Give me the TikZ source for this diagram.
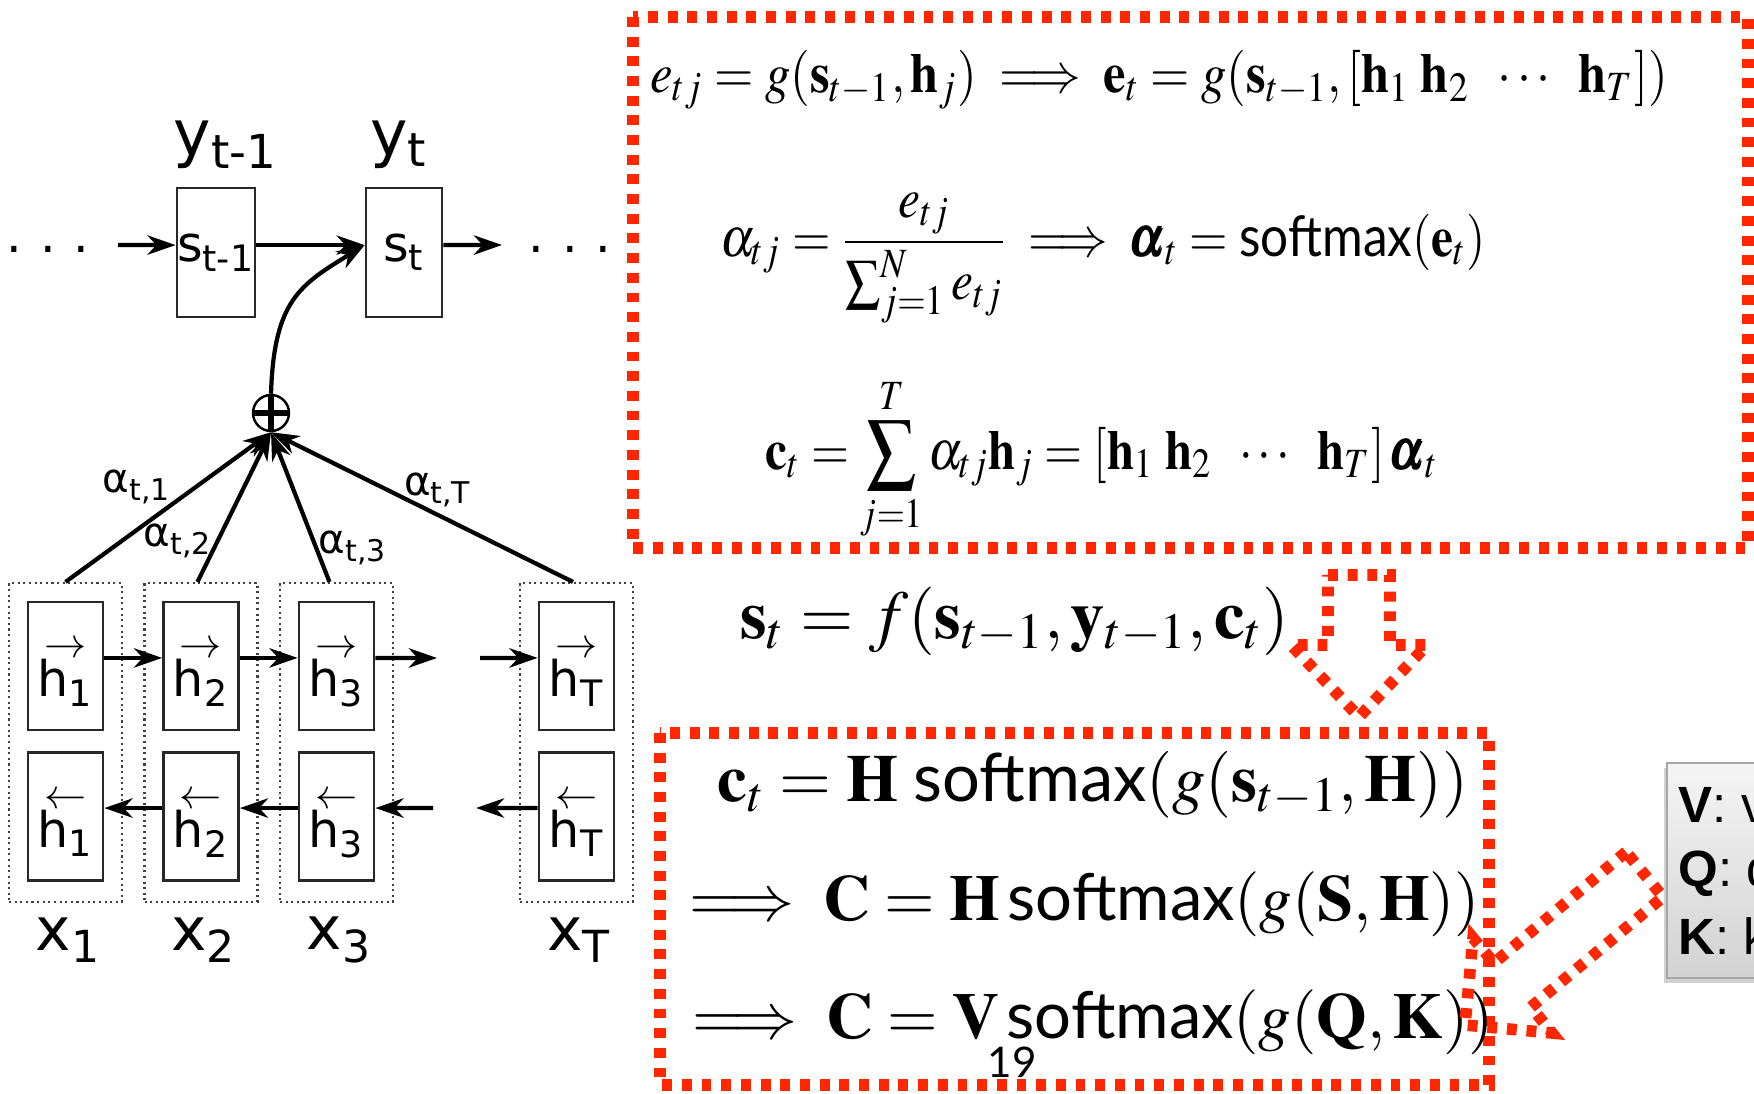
\documentclass[tikz,border=0pt]{standalone}
\usepackage{amsmath}
\usepackage{mathptmx}
\usepackage[no-math]{fontspec}
\setmainfont{DejaVu Sans}
\newfontfamily\smfont{Lato}
\newfontfamily\hvfont{Liberation Sans}
\usetikzlibrary{arrows.meta, positioning, calc, shadows}
\definecolor{keyred}{RGB}{255,38,0}
\definecolor{cellgray}{RGB}{40,40,40}

\newcommand{\smax}{\text{\smfont softmax}}
\newcommand{\hfw}[1]{\begin{tabular}{@{}c@{}}{\fontsize{12}{12}\selectfont$\rightarrow$}\\[-5pt]h\textsubscript{#1}\end{tabular}}
\newcommand{\hbw}[1]{\begin{tabular}{@{}c@{}}{\fontsize{12}{12}\selectfont$\leftarrow$}\\[-5pt]h\textsubscript{#1}\end{tabular}}

\tikzset{
  cell/.style={draw=cellgray, line width=0.8pt, minimum width=7.5mm, minimum height=12.8mm, inner sep=0pt, font=\fontsize{14}{16}\selectfont},
  grp/.style={draw=black!75, densely dotted, line width=0.6pt, minimum width=11.3mm, minimum height=31.9mm, inner sep=0pt},
  arr/.style={-{Stealth[length=8pt,width=5.5pt,inset=2.5pt]}, line width=1.2pt},
  reddots/.style={draw=keyred, line width=3.3pt, dash pattern=on 2.8pt off 2.8pt},
  eq/.style={inner sep=0pt, font=\fontsize{16}{18}\selectfont},
}

\begin{document}
\begin{tikzpicture}[x=0.1mm, y=-0.1mm]
  \path[use as bounding box, fill=white] (0,0) rectangle (1754,1094);

  % decoder states
  \node[cell, minimum width=7.6mm, minimum height=12.9mm] (sm) at (216,252.5) {s\textsubscript{t-1}};
  \node[cell, minimum width=7.6mm, minimum height=12.9mm] (st) at (404,252.5) {s\textsubscript{t}};
  \node[font=\fontsize{18}{20}\selectfont] (ym) at (226,145) {y\textsubscript{t-1}};
  \node[font=\fontsize{18}{20}\selectfont] (yt) at (399,145) {y\textsubscript{t}};
  \node[font=\fontsize{14}{16}\selectfont] (dotsl) at (48,256) {·\hspace{5pt}·\hspace{5pt}·};
  \node[font=\fontsize{14}{16}\selectfont] (dotsr) at (570,256) {·\hspace{5pt}·\hspace{5pt}·};
  \coordinate (in0) at (118,245);
  \coordinate (out0) at (502,245);
  \draw[arr] (in0) -- ([yshift=2.1pt]sm.west);
  \draw[arr] ([yshift=2.1pt]sm.east) -- ([yshift=2.1pt]st.west);
  \draw[arr] ([yshift=2.1pt]st.east) -- (out0);

  % sum node
  \node[circle, draw, line width=0.7pt, minimum size=3.6mm, inner sep=0pt] (plus) at (271,413) {};
  \draw[line width=1.6pt] (plus.north) -- (plus.south) (plus.west) -- (plus.east);
  \draw[arr] (plus.north) .. controls (274,300) and (300,285) .. ([yshift=2.1pt]st.west);

  % encoder columns
  \foreach \x/\i in {65.5/1, 201/2, 336.5/3, 576.5/T} {
    \node[grp] (g\i) at (\x,742.5) {};
    \node[cell] (hf\i) at (\x,666) {\hfw{\i}};
    \node[cell] (hb\i) at (\x,816.5) {\hbw{\i}};
    \node[font=\fontsize{17}{19}\selectfont] (x\i) at (\x+3,940) {x\textsubscript{\i}};
  }
  \coordinate (f3out) at (437,658);
  \coordinate (fTin) at (480,658);
  \coordinate (b3in) at (433,808);
  \coordinate (bTout) at (476,808);
  \draw[arr] ([yshift=2.3pt]hf1.east) -- ([yshift=2.3pt]hf2.west);
  \draw[arr] ([yshift=2.3pt]hf2.east) -- ([yshift=2.3pt]hf3.west);
  \draw[arr] ([yshift=2.3pt]hf3.east) -- (f3out);
  \draw[arr] (fTin) -- ([yshift=2.3pt]hfT.west);
  \draw[arr] ([yshift=2.4pt]hb2.west) -- ([yshift=2.4pt]hb1.east);
  \draw[arr] ([yshift=2.4pt]hb3.west) -- ([yshift=2.4pt]hb2.east);
  \draw[arr] (b3in) -- ([yshift=2.4pt]hb3.east);
  \draw[arr] ([yshift=2.4pt]hbT.west) -- (bTout);

  % attention weights
  \draw[arr] (g1.north) -- (plus.south);
  \draw[arr] ([xshift=-1pt]g2.north) -- (plus.south);
  \draw[arr] ([xshift=-2pt]g3.north) -- (plus.south);
  \draw[arr] ([xshift=-1pt]gT.north) -- (plus.south);
  \node[font=\fontsize{11.5}{13}\selectfont] (a1) at (137,487) {α\textsubscript{t,1}};
  \node[font=\fontsize{11.5}{13}\selectfont] (a2) at (178,541) {α\textsubscript{t,2}};
  \node[font=\fontsize{11.5}{13}\selectfont] (a3) at (353,548) {α\textsubscript{t,3}};
  \node[font=\fontsize{11.5}{13}\selectfont] (aT) at (438,490) {α\textsubscript{t,T}};

  % attention equations
  \draw[reddots] (633,17) rectangle (1748,548);
  \node[eq] (eqe) at (1159,80) {\scalebox{0.9}[1]{$e_{tj} = g(\mathbf{s}_{t-1}, \mathbf{h}_j) \;\Longrightarrow\; \mathbf{e}_t = g(\mathbf{s}_{t-1}, [\mathbf{h}_1\;\mathbf{h}_2\;\;\cdots\;\;\mathbf{h}_T])$}};
  \node[eq] (eqa) at (1103,258) {\scalebox{0.88}[1]{$\alpha_{tj} = \dfrac{e_{tj}}{\sum_{j=1}^{N} e_{tj}} \;\Longrightarrow\; \pmb{\alpha}_t = \smax(\mathbf{e}_t)$}};
  \node[eq] (eqc) at (1102,459) {\scalebox{0.87}[1]{$\displaystyle \mathbf{c}_t = \sum_{j=1}^{T} \alpha_{tj}\mathbf{h}_j = [\mathbf{h}_1\;\mathbf{h}_2\;\;\cdots\;\;\mathbf{h}_T]\,\pmb{\alpha}_t$}};
  \node[eq, font=\fontsize{19.5}{22}\selectfont] (eqs) at (1015,621) {$\mathbf{s}_t = f(\mathbf{s}_{t-1}, \mathbf{y}_{t-1}, \mathbf{c}_t)$};

  % down arrow
  \draw[reddots] (1328,575) -- (1390,575) -- (1390,645) -- (1427,645) -- (1359,717) -- (1291,645) -- (1328,645) -- cycle;

  % matrix form
  \draw[reddots] (660,733) rectangle (1489,1085);
  \node[eq, font=\fontsize{19}{21}\selectfont] (eqh) at (1093,785) {$\mathbf{c}_t = \mathbf{H}\;\smax(g(\mathbf{s}_{t-1}, \mathbf{H}))$};
  \node[eq, font=\fontsize{18.5}{21}\selectfont] (eqS) at (1085,904) {$\Longrightarrow\; \mathbf{C} = \mathbf{H}\,\smax(g(\mathbf{S}, \mathbf{H}))$};
  \node[eq, font=\fontsize{18.5}{21}\selectfont] (eqV) at (1093,1022) {$\Longrightarrow\; \mathbf{C} = \mathbf{V}\,\smax(g(\mathbf{Q}, \mathbf{K}))$};
  \node[font=\smfont\fontsize{12}{14}\selectfont] (pg) at (1012,1062) {19};

  % legend box
  \begin{scope}
    \clip (0,0) rectangle (1754,1094);
    \path[draw=gray!70, line width=0.4pt, top color=gray!8, bottom color=gray!35, drop shadow={opacity=0.35, shadow xshift=-1pt, shadow yshift=-1.5pt}] (1667,763) rectangle (1800,978);
    \node[anchor=west, inner sep=0pt, font=\hvfont\fontsize{14.5}{16}\selectfont] (lv) at (1678,805) {\textbf{V}: v};
    \node[anchor=west, inner sep=0pt, font=\hvfont\fontsize{14.5}{16}\selectfont] (lq) at (1678,874) {\textbf{Q}: q};
    \node[anchor=west, inner sep=0pt, font=\hvfont\fontsize{14.5}{16}\selectfont] (lk) at (1678,936) {\textbf{K}: k};
  \end{scope}

  % diagonal arrow
  \draw[reddots] (1626,852) -- (1494,963) -- (1473,938) -- (1465,1025) -- (1552,1033) -- (1531,1007) -- (1663,897) -- cycle;
\end{tikzpicture}
\end{document}
